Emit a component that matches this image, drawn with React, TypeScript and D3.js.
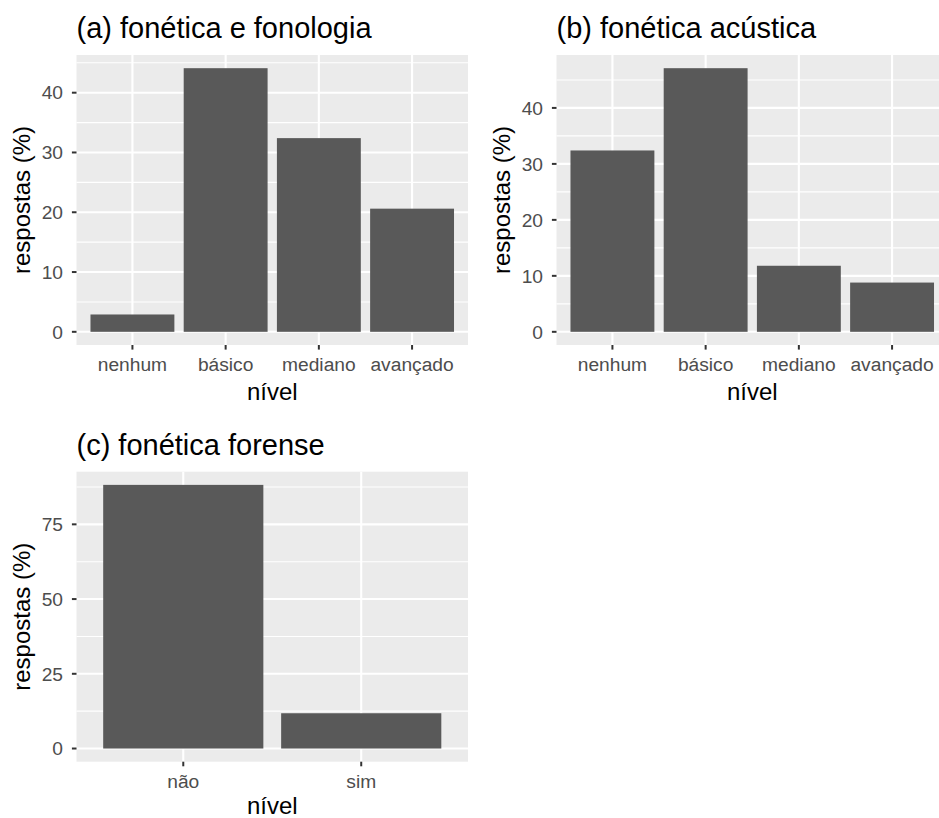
import React from "react";
import * as d3 from "d3";

// ---- data ----
const levels4 = ["nenhum", "básico", "mediano", "avançado"];
const valuesA = [2.9, 44.1, 32.4, 20.6];
const valuesB = [32.4, 47.1, 11.8, 8.8];
const levels2 = ["não", "sim"];
const valuesC = [88.2, 11.8];
const ticksAB = [0, 10, 20, 30, 40];
const minorA = [5, 15, 25, 35, 45];
const ticksC = [0, 25, 50, 75];
const minorC = [12.5, 37.5, 62.5, 87.5];
const titles = ["(a) fonética e fonologia", "(b) fonética acústica", "(c) fonética forense"];
const xTitle = "nível";
const yTitle = "respostas (%)";

const FONT = "'Liberation Sans', Arial, Helvetica, sans-serif";

type PanelProps = {
  left: number;
  top: number;
  width: number;
  height: number;
  cats: string[];
  values: number[];
  ticks: number[];
  minor: number[];
  title: string;
  xTitleOffset: number;
};

function Panel({ left, top, width, height, cats, values, ticks, minor, title, xTitleOffset }: PanelProps) {
  const maxV = d3.max(values) as number;
  const pad = maxV * 0.05;
  const y = d3.scaleLinear().domain([-pad, maxV + pad]).range([top + height, top]);
  const n = cats.length;
  // discrete expansion of 0.6 units each side
  const x = d3.scaleLinear().domain([0.4, n + 0.6]).range([left, left + width]);
  const bw = x(1.45) - x(1.0) ;
  const right = left + width;
  const bottom = top + height;
  return (
    <g>
      <text x={left} y={top - 17} fontSize={29} fill="#000" fontFamily={FONT}>{title}</text>
      <rect x={left} y={top} width={width} height={height} fill="#EBEBEB" />
      {minor.filter(v => y(v) >= top && y(v) <= bottom).map(v => (
        <line key={"mn" + v} x1={left} x2={right} y1={y(v)} y2={y(v)} stroke="#fff" strokeWidth={1.1} />
      ))}
      {ticks.map(v => (
        <line key={"mj" + v} x1={left} x2={right} y1={y(v)} y2={y(v)} stroke="#fff" strokeWidth={2.1} />
      ))}
      {cats.map((c, i) => (
        <line key={"vx" + c} x1={x(i + 1)} x2={x(i + 1)} y1={top} y2={bottom} stroke="#fff" strokeWidth={2.1} />
      ))}
      {values.map((v, i) => (
        <rect key={"b" + i} x={x(i + 1) - bw} y={y(v)} width={bw * 2} height={y(0) - y(v)} fill="#595959" />
      ))}
      {ticks.map(v => (
        <g key={"yt" + v}>
          <line x1={left - 4.6} x2={left} y1={y(v)} y2={y(v)} stroke="#333" strokeWidth={2} />
          <text x={left - 13.5} y={y(v)} dy="0.35em" textAnchor="end" fontSize={19.2} fill="#4D4D4D" fontFamily={FONT}>{v}</text>
        </g>
      ))}
      {cats.map((c, i) => (
        <g key={"xt" + c}>
          <line x1={x(i + 1)} x2={x(i + 1)} y1={bottom} y2={bottom + 4.6} stroke="#333" strokeWidth={2} />
          <text x={x(i + 1)} y={bottom + 26} textAnchor="middle" fontSize={19.2} fill="#4D4D4D" fontFamily={FONT}>{c}</text>
        </g>
      ))}
      <text x={(left + right) / 2} y={bottom + xTitleOffset} textAnchor="middle" fontSize={24} fill="#000" fontFamily={FONT}>{xTitle}</text>
      <text transform={`translate(${left - 47},${(top + bottom) / 2}) rotate(-90)`} textAnchor="middle" fontSize={24} fill="#000" fontFamily={FONT}>{yTitle}</text>
    </g>
  );
}

export default function App() {
  return (
    <div style={{ position: "absolute", left: 0, top: 0, width: 939, height: 818, overflow: "hidden", background: "#fff" }}>
      <svg width={939} height={818} style={{ display: "block" }}>
        <rect width={939} height={818} fill="#fff" />
        <Panel left={76.5} top={55} width={391.5} height={290} cats={levels4} values={valuesA} ticks={ticksAB} minor={minorA} title={titles[0]} xTitleOffset={55} />
        <Panel left={556.5} top={55} width={391.5} height={290} cats={levels4} values={valuesB} ticks={ticksAB} minor={minorA} title={titles[1]} xTitleOffset={55} />
        <Panel left={76.5} top={471.7} width={391.5} height={290} cats={levels2} values={valuesC} ticks={ticksC} minor={minorC} title={titles[2]} xTitleOffset={52} />
      </svg>
    </div>
  );
}
